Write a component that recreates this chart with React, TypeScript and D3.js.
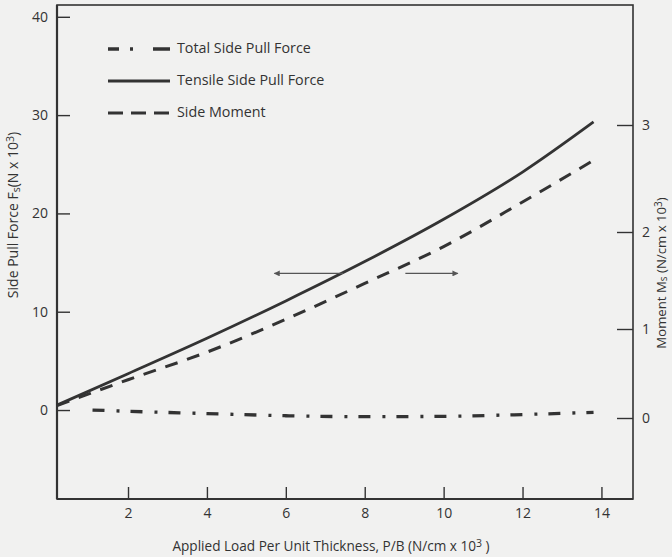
import React, { useRef, useEffect } from 'react';
import * as d3 from 'd3';

// x = applied load per unit thickness (N/cm x 10^3)
const loadTicks = [2, 4, 6, 8, 10, 12, 14];
const forceTicks = [0, 10, 20, 30, 40];
const momentTicks = [0, 1, 2, 3];

const tensileLoad = [0.2, 2, 4, 6, 8, 10, 12, 13.8];
const tensileForce = [0.5, 3.7, 7.3, 11.1, 15.1, 19.4, 24.2, 29.3];

const momentLoad = [0.2, 2, 4, 6, 8, 10, 12, 13.8];
const sideMoment = [0.14, 0.43, 0.74, 1.1, 1.47, 1.85, 2.28, 2.67];

const totalLoad = [1.1, 2, 4, 6, 8, 10, 12, 13.8];
const totalForce = [0.0, -0.13, -0.36, -0.58, -0.68, -0.64, -0.46, -0.23];

// the two horizontal arrows (load range, force level)
const arrowLevel = 13.9;
const arrowLeft = [7.46, 5.71];
const arrowRight = [9.03, 10.36];

const legendItems = ['Total Side Pull Force', 'Tensile Side Pull Force', 'Side Moment'];

const INK = '#333333';
const FONT = '"Open Sans", "Noto Sans", sans-serif';

const App = () => {
  const svgRef = useRef<SVGSVGElement>(null);

  useEffect(() => {
    if (!svgRef.current) return;
    document.body.style.margin = '0';

    const svg = d3.select(svgRef.current);
    svg.selectAll('*').remove();

    const left = 57, right = 633, top = 5, bottom = 499;

    const x = d3.scaleLinear().domain([0.2, 14.8]).range([left, right]);
    const yF = d3.scaleLinear().domain([-9.05, 41.2]).range([bottom, top]);
    // moment axis as printed is not evenly spaced
    const yM = d3.scaleLinear().domain([0, 1, 2, 3]).range([418, 329, 232, 125]);

    svg.append('rect')
      .attr('width', 672).attr('height', 557)
      .attr('fill', '#f1f1f0');

    // frame
    svg.append('rect')
      .attr('x', left).attr('y', top)
      .attr('width', right - left).attr('height', bottom - top)
      .attr('fill', 'none')
      .attr('stroke', INK)
      .attr('stroke-width', 1.6);
    svg.append('line')
      .attr('x1', left).attr('x2', left).attr('y1', top).attr('y2', bottom)
      .attr('stroke', INK).attr('stroke-width', 2.2);
    svg.append('line')
      .attr('x1', left).attr('x2', right).attr('y1', bottom).attr('y2', bottom)
      .attr('stroke', INK).attr('stroke-width', 2.2);

    const styleAxis = (g: any) => {
      g.select('.domain').remove();
      g.selectAll('line').attr('stroke', INK).attr('stroke-width', 1.4);
      g.selectAll('text')
        .attr('fill', INK)
        .attr('font-family', FONT)
        .attr('font-size', 14);
    };

    svg.append('g')
      .attr('transform', `translate(${left},0)`)
      .call(d3.axisLeft(yF).tickValues(forceTicks).tickFormat(d3.format('d')).tickSizeInner(-13).tickSizeOuter(0).tickPadding(9))
      .call(styleAxis);

    svg.append('g')
      .attr('transform', `translate(0,${bottom})`)
      .call(d3.axisBottom(x).tickValues(loadTicks).tickFormat(d3.format('d')).tickSizeInner(-12).tickSizeOuter(0).tickPadding(9))
      .call(styleAxis);

    svg.append('g')
      .attr('transform', `translate(${right},0)`)
      .call(d3.axisRight(yM).tickValues(momentTicks).tickFormat(d3.format('d')).tickSizeInner(-16).tickSizeOuter(0).tickPadding(9))
      .call(styleAxis);

    // axis titles
    const xTitle = svg.append('text')
      .attr('x', 331).attr('y', 547)
      .attr('text-anchor', 'middle')
      .attr('dominant-baseline', 'middle')
      .attr('fill', INK)
      .attr('font-family', FONT)
      .attr('font-size', 13.6);
    xTitle.append('tspan').text('Applied Load Per Unit Thickness, P/B (N/cm x 10');
    xTitle.append('tspan').attr('baseline-shift', '25%').attr('font-size', 10.5).text('3');
    xTitle.append('tspan').text(' )');

    const leftTitle = svg.append('text')
      .attr('transform', 'translate(14,215) rotate(-90)')
      .attr('text-anchor', 'middle')
      .attr('dominant-baseline', 'middle')
      .attr('fill', INK)
      .attr('font-family', FONT)
      .attr('font-size', 14);
    leftTitle.append('tspan').text('Side Pull Force  F');
    leftTitle.append('tspan').attr('baseline-shift', '-25%').attr('font-size', 10.5).text('s');
    leftTitle.append('tspan').text('(N x 10');
    leftTitle.append('tspan').attr('baseline-shift', '25%').attr('font-size', 10.5).text('3');
    leftTitle.append('tspan').text(')');

    const rightTitle = svg.append('text')
      .attr('transform', 'translate(662,273) rotate(-90)')
      .attr('text-anchor', 'middle')
      .attr('dominant-baseline', 'middle')
      .attr('fill', INK)
      .attr('font-family', FONT)
      .attr('font-size', 13.2);
    rightTitle.append('tspan').text('Moment M');
    rightTitle.append('tspan').attr('baseline-shift', '-20%').attr('font-size', 10).text('s');
    rightTitle.append('tspan').text(' (N/cm x 10');
    rightTitle.append('tspan').attr('baseline-shift', '25%').attr('font-size', 10).text('3');
    rightTitle.append('tspan').text(')');

    const line = d3.line<[number, number]>().curve(d3.curveMonotoneX);

    // tensile side pull force (solid)
    svg.append('path')
      .attr('d', line(tensileLoad.map((v, i) => [x(v), yF(tensileForce[i])])))
      .attr('fill', 'none')
      .attr('stroke', INK)
      .attr('stroke-width', 2.8);

    // side moment (dashed, right axis)
    svg.append('path')
      .attr('d', line(momentLoad.map((v, i) => [x(v), yM(sideMoment[i])])))
      .attr('fill', 'none')
      .attr('stroke', INK)
      .attr('stroke-width', 3)
      .attr('stroke-dasharray', '13,10');

    // total side pull force (dash-dot)
    svg.append('path')
      .attr('d', line(totalLoad.map((v, i) => [x(v), yF(totalForce[i])])))
      .attr('fill', 'none')
      .attr('stroke', INK)
      .attr('stroke-width', 3.3)
      .attr('stroke-dasharray', '12,12,3,11');

    // arrows
    const defs = svg.append('defs');
    defs.append('marker')
      .attr('id', 'arrowhead')
      .attr('viewBox', '0 0 10 10')
      .attr('refX', 9).attr('refY', 5)
      .attr('markerWidth', 9).attr('markerHeight', 6)
      .attr('markerUnits', 'userSpaceOnUse')
      .attr('orient', 'auto')
      .append('path')
      .attr('d', 'M0,0 L10,5 L0,10 Z')
      .attr('fill', '#555');

    [arrowLeft, arrowRight].forEach(a => {
      svg.append('line')
        .attr('x1', x(a[0])).attr('x2', x(a[1]))
        .attr('y1', yF(arrowLevel)).attr('y2', yF(arrowLevel))
        .attr('stroke', '#555')
        .attr('stroke-width', 1.4)
        .attr('marker-end', 'url(#arrowhead)');
    });

    // legend
    const dashes = ['11,11,3,20,17', null, '15,8'];
    const widths = [3.3, 2.8, 3];
    legendItems.forEach((name, i) => {
      const ly = 49 + i * 32;
      svg.append('line')
        .attr('x1', 108).attr('x2', 170)
        .attr('y1', ly).attr('y2', ly)
        .attr('stroke', INK)
        .attr('stroke-width', widths[i])
        .attr('stroke-dasharray', dashes[i]);
      svg.append('text')
        .attr('x', 177).attr('y', ly)
        .attr('dominant-baseline', 'middle')
        .attr('fill', INK)
        .attr('font-family', FONT)
        .attr('font-size', 14.3)
        .text(name);
    });
  }, []);

  return (
    <svg ref={svgRef} width={672} height={557} style={{ display: 'block' }}></svg>
  );
};

export default App;
